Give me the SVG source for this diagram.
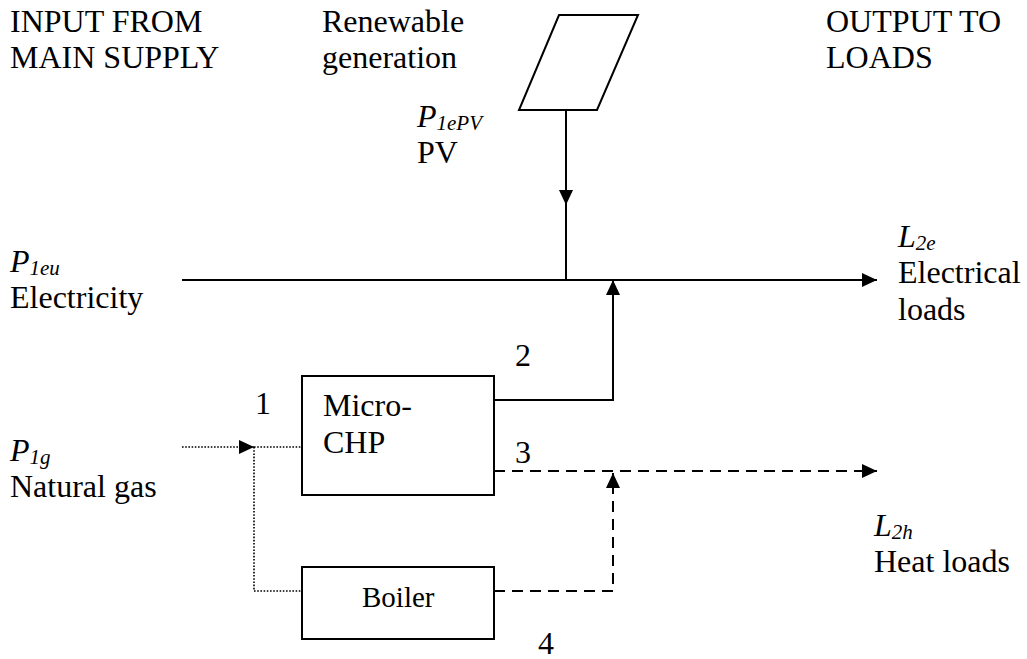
<svg xmlns="http://www.w3.org/2000/svg" width="1027" height="659" viewBox="0 0 1027 659">
<style>
text{font-family:"Liberation Serif","Times New Roman",serif;font-size:32px;fill:#000}
.sub{font-size:21px;font-style:italic}
.it{font-style:italic}
.box{fill:#fff;stroke:#000;stroke-width:2}
.ln{fill:none;stroke:#000;stroke-width:2}
.dash{fill:none;stroke:#000;stroke-width:2;stroke-dasharray:11 7}
.dot{fill:none;stroke:#000;stroke-width:1.6;stroke-dasharray:1.6 1.6}
</style>
<defs>
<marker id="ah" viewBox="0 0 15 14" refX="15" refY="7" markerWidth="15" markerHeight="14" markerUnits="userSpaceOnUse" orient="auto">
<path d="M0 0 L15 7 L0 14 Z" fill="#000" stroke="none"/>
</marker>
</defs>
<rect width="1027" height="659" fill="#fff"/>

<g id="header-input"><text x="10" y="32">INPUT FROM</text><text x="10" y="68">MAIN SUPPLY</text></g>
<g id="header-renewable"><text x="322" y="32">Renewable</text><text x="322" y="68">generation</text></g>
<g id="header-output"><text x="826" y="32">OUTPUT TO</text><text x="826" y="68">LOADS</text></g>

<g id="pv-panel"><polygon points="559,15 638,15 597,110 519,110" class="box"/></g>
<g id="pv-label"><text x="417" y="127"><tspan class="it">P</tspan><tspan class="sub" dy="3">1ePV</tspan></text><text x="417" y="163">PV</text></g>

<g id="electricity-label"><text x="10" y="272"><tspan class="it">P</tspan><tspan class="sub" dy="3">1eu</tspan></text><text x="10" y="308">Electricity</text></g>
<g id="gas-label"><text x="10" y="461"><tspan class="it">P</tspan><tspan class="sub" dy="3">1g</tspan></text><text x="10" y="497">Natural gas</text></g>

<g id="electrical-loads"><text x="898" y="247"><tspan class="it">L</tspan><tspan class="sub" dy="3">2e</tspan></text><text x="898" y="283">Electrical</text><text x="898" y="320">loads</text></g>
<g id="heat-loads"><text x="874" y="536"><tspan class="it">L</tspan><tspan class="sub" dy="3">2h</tspan></text><text x="874" y="572">Heat loads</text></g>

<g id="micro-chp"><rect x="302" y="376" width="192" height="119" class="box"/><text x="323" y="416">Micro-</text><text x="323" y="453">CHP</text></g>
<g id="boiler"><rect x="302" y="567" width="192" height="72" class="box"/><text x="362" y="607" style="font-size:29px">Boiler</text></g>

<g id="connectors">
<path class="ln" d="M566 110 V205" marker-end="url(#ah)"/>
<path class="ln" d="M566 205 V280"/>
<path class="ln" d="M182 280 H877" marker-end="url(#ah)"/>
<path class="ln" d="M494 400 H613 V280" marker-end="url(#ah)"/>
<path class="dash" d="M494 471 H877" marker-end="url(#ah)"/>
<path class="dash" d="M494 591 H613 V473" marker-end="url(#ah)"/>
<path class="dot" d="M182 447 H254" marker-end="url(#ah)"/>
<path class="dot" d="M254 447 H302"/>
<path class="dot" d="M254 447 V591 H302"/>
</g>

<g id="flow-numbers">
<text x="255" y="414">1</text>
<text x="515" y="366">2</text>
<text x="515" y="463">3</text>
<text x="538" y="654">4</text>
</g>
</svg>
